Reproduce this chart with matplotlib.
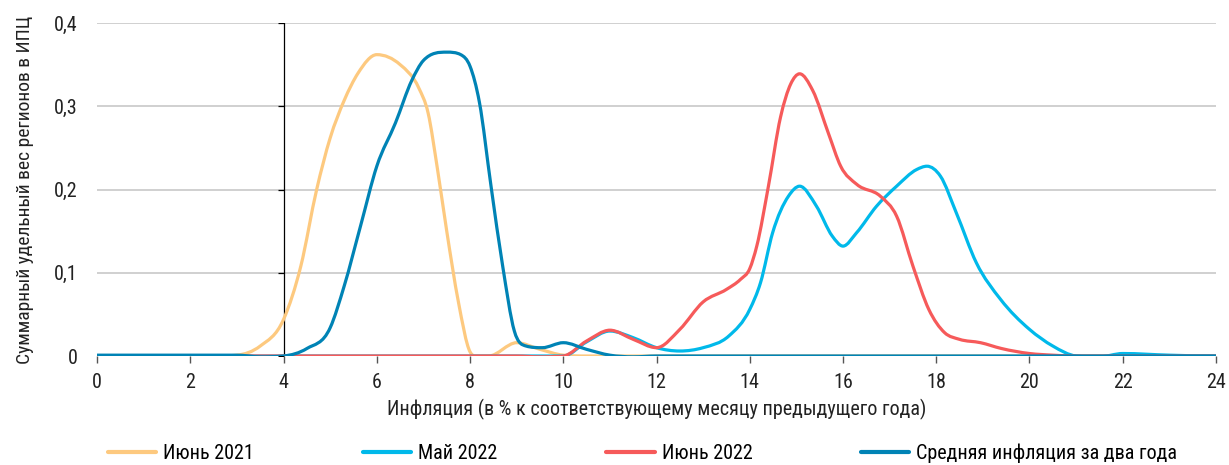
import matplotlib
matplotlib.use('Agg')
import matplotlib.pyplot as plt
from matplotlib.path import Path
from matplotlib.patches import PathPatch
from matplotlib.lines import Line2D
import numpy as np

plt.rcParams['font.family'] = ['Roboto Condensed', 'PT Sans Narrow', 'Fira Sans Condensed',
                               'Liberation Sans Narrow', 'DejaVu Sans']

# x = inflation, % y/y ; y = summed CPI weight of regions
june_2021_x = [0, 2.5, 3.0, 3.5, 4.0, 4.37, 4.71, 5.0, 5.3, 5.6, 6.0, 6.5, 6.9, 7.1, 7.3,
               7.5, 7.75, 8.0, 8.1, 8.4, 9.0, 9.5, 10.0, 10.5, 24]
june_2021_y = [0, 0, 0.001, 0.012, 0.044, 0.108, 0.2, 0.262, 0.307, 0.34, 0.362, 0.35,
               0.322, 0.292, 0.225, 0.15, 0.065, 0.005, 0, 0, 0.016, 0.008, 0.001, 0, 0]

may_2022_x = [0, 10.0, 10.5, 11.0, 11.5, 12.0, 12.5, 13.0, 13.55, 14.0, 14.23, 14.49, 14.83,
              15.07, 15.43, 15.77, 16.0, 16.29, 16.72, 17.15, 17.58, 17.8, 18.09, 18.43,
              18.86, 19.38, 20.0, 20.5, 21.0, 21.5, 22.0, 23.0, 24]
may_2022_y = [0, 0, 0.017, 0.03, 0.022, 0.01, 0.006, 0.01, 0.024, 0.056, 0.088, 0.148,
              0.192, 0.204, 0.18, 0.144, 0.132, 0.148, 0.18, 0.204, 0.224, 0.228, 0.216,
              0.172, 0.112, 0.068, 0.032, 0.012, 0, -0.001, 0.003, 0.001, 0]

june_2022_x = [0, 9.0, 9.5, 10.0, 10.5, 11.0, 11.5, 12.0, 12.5, 13.0, 13.5, 13.8, 14.0,
               14.15, 14.4, 14.66, 14.88, 15.07, 15.35, 15.69, 15.95, 16.3, 16.8, 17.15,
               17.5, 17.84, 18.18, 18.5, 18.95, 19.4, 20.0, 20.5, 21.0, 24]
june_2022_y = [0, 0, -0.001, 0, 0.018, 0.031, 0.02, 0.01, 0.032, 0.065, 0.08, 0.092, 0.105,
               0.132, 0.204, 0.287, 0.327, 0.339, 0.319, 0.267, 0.228, 0.206, 0.192, 0.168,
               0.108, 0.056, 0.028, 0.02, 0.016, 0.009, 0.003, 0.001, 0, 0]

avg_2y_x = [0, 3.0, 3.5, 4.0, 4.5, 5.0, 5.3, 5.65, 6.0, 6.4, 6.75, 7.0, 7.5, 7.8, 8.0, 8.2,
            8.45, 8.7, 8.95, 9.2, 9.55, 10.0, 10.5, 11.0, 11.5, 12.0, 24]
avg_2y_y = [0.001, 0.001, -0.001, 0.0, 0.009, 0.034, 0.084, 0.156, 0.228, 0.28, 0.331, 0.355,
            0.365, 0.362, 0.348, 0.305, 0.204, 0.108, 0.03, 0.012, 0.01, 0.016, 0.008, 0.001,
            -0.001, 0, 0]

series_names = ['Июнь 2021', 'Май 2022', 'Июнь 2022', 'Средняя инфляция за два года']
series_colors = ['#FDC97F', '#00B9EA', '#F65A5A', '#0083B5']
xticks = np.arange(0, 25, 2)
yticks = [0, 0.1, 0.2, 0.3, 0.4]
ytick_labels = ['0', '0,1', '0,2', '0,3', '0,4']


def smooth_path(x, y):
    # smoothed line as bezier pieces; tangents from neighbours, clamped so no overshoot
    x = np.asarray(x, float)
    y = np.asarray(y, float)
    h = np.diff(x)
    d = np.diff(y) / h
    m = np.zeros_like(y)
    for i in range(1, len(x) - 1):
        if d[i - 1] * d[i] > 0:
            t = (h[i] * d[i - 1] + h[i - 1] * d[i]) / (h[i - 1] + h[i])
            lim = 3 * min(abs(d[i - 1]), abs(d[i]))
            m[i] = np.sign(t) * min(abs(t), lim)
    verts = [(x[0], y[0])]
    codes = [Path.MOVETO]
    for i in range(len(x) - 1):
        verts += [(x[i] + h[i] / 3, y[i] + m[i] * h[i] / 3),
                  (x[i + 1] - h[i] / 3, y[i + 1] - m[i + 1] * h[i] / 3),
                  (x[i + 1], y[i + 1])]
        codes += [Path.CURVE4] * 3
    return Path(verts, codes)


fig = plt.figure(figsize=(12.29, 4.65), dpi=100)
ax = fig.add_axes([0.079, 0.2344, 0.9104, 0.7161])

for yv in yticks[1:]:
    ax.axhline(yv, color='#C8C8C8', lw=1.2, zorder=1)
ax.axhline(0, color='#B0B0B0', lw=1.2, zorder=1)
ax.axvline(4, color='black', lw=0.9, zorder=1.5)
ax.plot(np.full(len(yticks), 4), yticks, ls='none', marker=0, ms=4,
        mew=0.9, color='black', zorder=1.5)

series = [(june_2021_x, june_2021_y), (may_2022_x, may_2022_y),
          (june_2022_x, june_2022_y), (avg_2y_x, avg_2y_y)]
for (sx, sy), col in zip(series, series_colors):
    ax.add_patch(PathPatch(smooth_path(sx, sy), fill=False, edgecolor=col,
                           lw=2.3, capstyle='round', joinstyle='round', zorder=3))

ax.set_xlim(0, 24)
ax.set_ylim(0, 0.4)
for s in ax.spines.values():
    s.set_visible(False)
ax.set_xticks(xticks)
ax.set_xticklabels([str(v) for v in xticks], fontsize=14.5, color='#222222')
ax.set_yticks(yticks)
ax.set_yticklabels(ytick_labels, fontsize=14.5, color='#222222')
ax.tick_params(axis='x', length=5, width=1, color='#555555', pad=7)
ax.tick_params(axis='y', length=0, pad=14)
ax.set_xlabel('Инфляция (в % к соответствующему месяцу предыдущего года)',
              fontsize=14.5, color='#222222', labelpad=5)
ax.set_ylabel('Суммарный удельный вес регионов в ИПЦ', fontsize=14,
              color='#222222', labelpad=14)

handles = [Line2D([], [], color=c, lw=3, solid_capstyle='round') for c in series_colors]
fig.legend(handles, series_names, loc='lower left', bbox_to_anchor=(0.073, -0.035),
           ncol=4, frameon=False, fontsize=14.5, handlelength=2.4, handletextpad=0.35,
           columnspacing=5.4)

fig.savefig('out.png', dpi=100)
